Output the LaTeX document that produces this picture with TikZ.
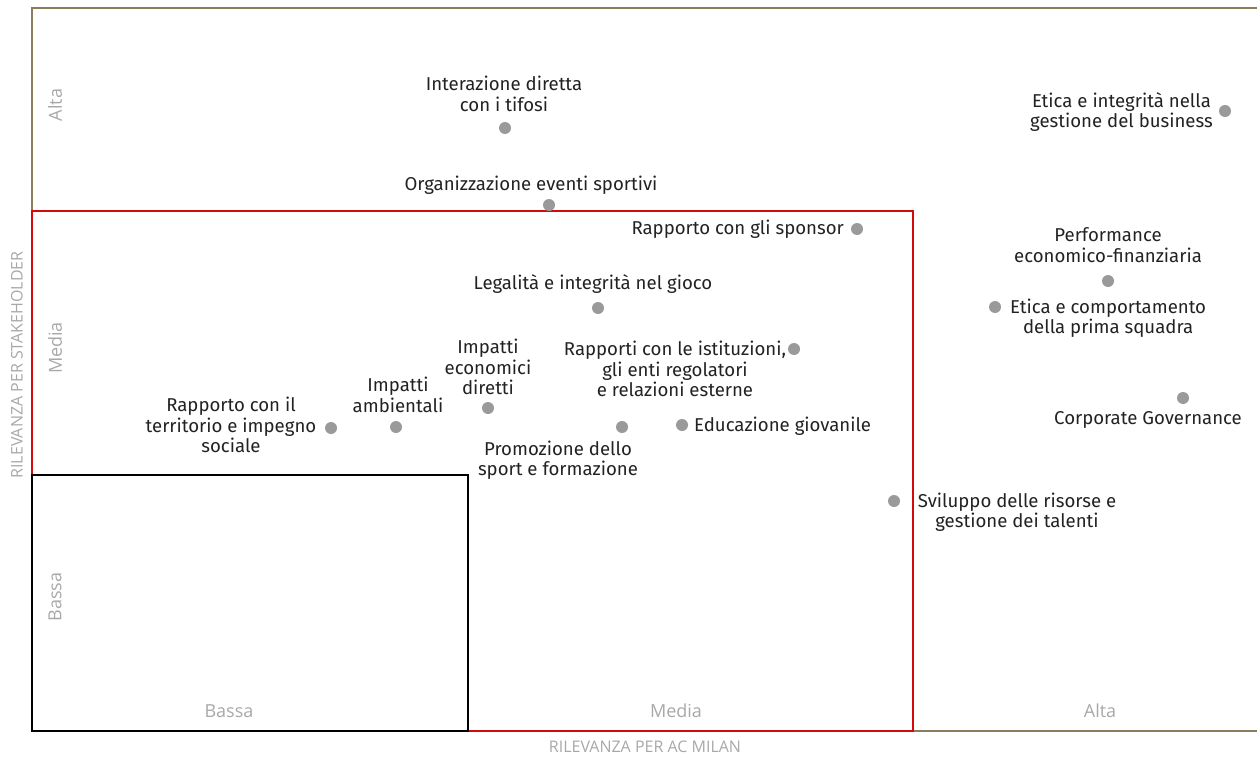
\documentclass[tikz,border=0pt]{standalone}
\usepackage{fontspec}
\setmainfont{Fira Sans}
\newfontfamily\axisfont{Open Sans}
\definecolor{gold}{HTML}{8C7D5A}
\definecolor{redbox}{HTML}{D40A0A}
\definecolor{dotgray}{HTML}{9A9A9A}
\definecolor{axisgray}{HTML}{A8A8A8}
\definecolor{txt}{HTML}{222222}
\tikzset{
  dot/.style={circle,fill=dotgray,inner sep=0pt,minimum size=12pt},
  lbl/.style={inner sep=0pt,align=center,text=txt,font=\fontsize{18.6}{20.5}\selectfont},
  axlbl/.style={inner sep=0pt,text=axisgray,font=\axisfont\fontsize{18}{20}\selectfont},
  axtitle/.style={inner sep=0pt,text=axisgray,font=\axisfont\fontsize{16}{18}\selectfont},
}
\begin{document}
\begin{tikzpicture}[x=1pt,y=-1pt]
\useasboundingbox (0,0) rectangle (1257,757);
% frames
\draw[gold,line width=2.2pt] (1257,8) -- (32,8) -- (32,731) -- (1257,731);
\draw[redbox,line width=2.2pt] (32,211) rectangle (913,731);
\draw[black,line width=2.2pt] (32,475) rectangle (468,731);
% axis labels
\node[axlbl,rotate=90] (ya) at (55,105) {Alta};
\node[axlbl,rotate=90] (ym) at (55,348) {Media};
\node[axlbl,rotate=90] (yb) at (55,597) {Bassa};
\node[axlbl] (xb) at (229,711) {Bassa};
\node[axlbl] (xm) at (676,711) {Media};
\node[axlbl] (xa) at (1100,711) {Alta};
\node[axtitle] (xt) at (645,747) {RILEVANZA PER AC MILAN};
\node[axtitle,rotate=90] (yt) at (17,365) {RILEVANZA PER STAKEHOLDER};
% dots
\node[dot] (d1) at (505,128) {};
\node[dot] (d2) at (549,205) {};
\node[dot] (d3) at (1225,111) {};
\node[dot] (d4) at (857,229) {};
\node[dot] (d5) at (1108,281) {};
\node[dot] (d6) at (598,308) {};
\node[dot] (d7) at (995,307) {};
\node[dot] (d8) at (794,349) {};
\node[dot] (d9) at (488,408) {};
\node[dot] (d10) at (396,427) {};
\node[dot] (d11) at (331,428) {};
\node[dot] (d12) at (622,427) {};
\node[dot] (d13) at (682,425) {};
\node[dot] (d14) at (1183,398) {};
\node[dot] (d15) at (894,501) {};
% labels
\node[lbl] (t1) at (504,94) {Interazione diretta\\con i tifosi};
\node[lbl] (t2) at (531,185) {Organizzazione eventi sportivi};
\node[lbl,anchor=east] (t3) at (1213,112) {Etica e integrità nella\\gestione del business};
\node[lbl,anchor=east] (t4) at (844,229) {Rapporto con gli sponsor};
\node[lbl] (t5) at (1108,245) {Performance\\economico-finanziaria};
\node[lbl] (t6) at (593,284) {Legalità e integrità nel gioco};
\node[lbl,anchor=west] (t7) at (1010,318) {Etica e comportamento\\della prima squadra};
\node[lbl] (t8) at (675,369) {Rapporti con le istituzioni,\\gli enti regolatori\\e relazioni esterne};
\node[lbl] (t9) at (488,367) {Impatti\\economici\\diretti};
\node[lbl] (t10) at (398,395) {Impatti\\ambientali};
\node[lbl] (t11) at (231,425) {Rapporto con il\\territorio e impegno\\sociale};
\node[lbl] (t12) at (558,460) {Promozione dello\\sport e formazione};
\node[lbl,anchor=west] (t13) at (694,426) {Educazione giovanile};
\node[lbl] (t14) at (1148,420) {Corporate Governance};
\node[lbl] (t15) at (1017,512) {Sviluppo delle risorse e\\gestione dei talenti};
\end{tikzpicture}
\end{document}
